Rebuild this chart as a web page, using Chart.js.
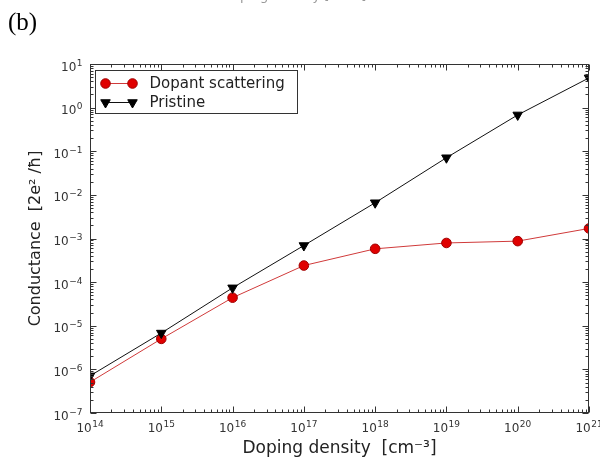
<!DOCTYPE html>
<html><head><meta charset="utf-8">
<script src="https://cdn.jsdelivr.net/npm/chart.js@4/dist/chart.umd.min.js"></script>
<style>
html,body{margin:0;padding:0;background:#fff;}
#wrap{position:relative;width:600px;height:457px;overflow:hidden;background:#fff;}
#c{position:absolute;left:0;top:0;}
#lab{position:absolute;left:8px;top:8px;font-family:"Liberation Serif","Times New Roman",serif;font-size:25px;color:#000;}
#cut{position:absolute;left:222px;top:-12px;font-family:"DejaVu Sans",sans-serif;font-size:13px;color:#999;white-space:nowrap;}
</style></head><body>
<div id="wrap"><canvas id="c" width="600" height="457"></canvas><div id="lab">(b)</div><div id="cut">Doping density  [cm⁻³]</div></div>
<script>
const densities = [1e14, 1e15, 1e16, 1e17, 1e18, 1e19, 1e20, 1e21];
const dopantScattering = [5.1e-7, 5.0e-6, 4.4e-5, 2.4e-4, 5.8e-4, 7.9e-4, 8.7e-4, 1.7e-3];
const pristine = [7.1e-7, 6.8e-6, 7.4e-5, 6.9e-4, 6.6e-3, 7.1e-2, 0.68, 4.8];
const xTicks = [1e14, 1e15, 1e16, 1e17, 1e18, 1e19, 1e20, 1e21];
const yTicks = [1e-7, 1e-6, 1e-5, 1e-4, 1e-3, 1e-2, 1e-1, 1e0, 1e1];
const seriesNames = ['Dopant scattering', 'Pristine'];
const xTitle = 'Doping density  [cm⁻³]';
const yTitle = 'Conductance  [2e² /ħ]';

const FONT = '"DejaVu Sans"';
function expOf(v){ return String(Math.round(Math.log10(v))).replace('-', '\u2212'); }

// draws "10" with a raised exponent; anchor: 'center' or 'right'
function drawPow(ctx, v, x, baseline, anchor){
  const e = expOf(v);
  ctx.font = '12px ' + FONT;
  const wb = ctx.measureText('10').width;
  ctx.font = '9px ' + FONT;
  const we = ctx.measureText(e).width;
  const total = wb + we + 0.5;
  const x0 = anchor === 'center' ? x - total / 2 : x - total;
  ctx.textAlign = 'left';
  ctx.textBaseline = 'alphabetic';
  ctx.font = '12px ' + FONT;
  ctx.fillText('10', x0, baseline);
  ctx.font = '9px ' + FONT;
  ctx.fillText(e, x0 + wb + 0.5, baseline - 5);
}

const frameTicks = {
  id: 'frameTicks',
  afterDatasetsDraw(chart){
    const {ctx, chartArea: a, scales: {x, y}} = chart;
    const L = Math.round(a.left) + 0.5, R = Math.round(a.right) - 0.5;
    const T = Math.round(a.top) + 0.5, B = Math.round(a.bottom) - 0.5;
    ctx.save();
    ctx.strokeStyle = '#333';
    ctx.lineWidth = 1;
    ctx.beginPath();
    const major = 6, minor = 3;
    function decadeTicks(ticks, cb){
      for (let i = 0; i < ticks.length; i++){
        cb(ticks[i], major);
        if (i < ticks.length - 1){
          for (let m = 2; m <= 9; m++) cb(ticks[i] * m, minor);
        }
      }
    }
    decadeTicks(xTicks, (v, len) => {
      const px = Math.round(x.getPixelForValue(v)) + 0.5;
      ctx.moveTo(px, B); ctx.lineTo(px, B - len);
      ctx.moveTo(px, T); ctx.lineTo(px, T + len);
    });
    decadeTicks(yTicks, (v, len) => {
      const py = Math.round(y.getPixelForValue(v)) + 0.5;
      ctx.moveTo(L, py); ctx.lineTo(L + len, py);
      ctx.moveTo(R, py); ctx.lineTo(R - len, py);
    });
    ctx.stroke();
    ctx.strokeRect(L, T, R - L, B - T);

    // tick labels
    ctx.fillStyle = '#333';
    xTicks.forEach(v => drawPow(ctx, v, x.getPixelForValue(v), B + 19, 'center'));
    yTicks.forEach(v => drawPow(ctx, v, L - 8, y.getPixelForValue(v) + 6.5, 'right'));
    ctx.restore();
  },
  afterDraw(chart){
    const {ctx, chartArea: a} = chart;
    const bx = Math.round(a.left) + 5.5, by = Math.round(a.top) + 6.5;
    const bw = 202, bh = 43;
    ctx.save();
    ctx.fillStyle = '#fff';
    ctx.fillRect(bx, by, bw, bh);
    ctx.strokeStyle = '#333';
    ctx.lineWidth = 1;
    ctx.strokeRect(bx, by, bw, bh);
    chart.data.datasets.forEach((ds, i) => {
      const yy = by + 13 + i * 19;
      const x1 = bx + 10, x2 = bx + 37;
      ctx.strokeStyle = ds.borderColor;
      ctx.lineWidth = 1;
      ctx.beginPath(); ctx.moveTo(x1, yy); ctx.lineTo(x2, yy); ctx.stroke();
      [x1, x2].forEach(px => {
        ctx.fillStyle = ds.pointBackgroundColor;
        ctx.strokeStyle = ds.pointBorderColor;
        ctx.beginPath();
        if (ds.pointStyle === 'circle'){
          ctx.arc(px, yy, ds.pointRadius, 0, Math.PI * 2);
        } else {
          const r = ds.pointRadius;
          ctx.moveTo(px - r * 0.866, yy - r * 0.5);
          ctx.lineTo(px + r * 0.866, yy - r * 0.5);
          ctx.lineTo(px, yy + r);
          ctx.closePath();
        }
        ctx.fill(); ctx.stroke();
      });
      ctx.fillStyle = '#222';
      ctx.font = '15px ' + FONT;
      ctx.textBaseline = 'middle';
      ctx.textAlign = 'left';
      ctx.fillText(ds.label, bx + 54, yy + 1);
    });
    ctx.restore();
  }
};

new Chart(document.getElementById('c'), {
  type: 'line',
  data: {
    datasets: [
      {
        label: seriesNames[0],
        data: densities.map((d, i) => ({x: d, y: dopantScattering[i]})),
        borderColor: '#d03a3a',
        borderWidth: 1,
        pointStyle: 'circle',
        pointRadius: 4.8,
        pointBackgroundColor: '#e00000',
        pointBorderColor: '#a00000',
        pointBorderWidth: 1,
        order: 2
      },
      {
        label: seriesNames[1],
        data: densities.map((d, i) => ({x: d, y: pristine[i]})),
        borderColor: '#111',
        borderWidth: 1,
        pointStyle: 'triangle',
        pointRotation: 180,
        pointRadius: 5.5,
        pointBackgroundColor: '#000',
        pointBorderColor: '#000',
        pointBorderWidth: 1,
        order: 1
      }
    ]
  },
  options: {
    responsive: false,
    animation: false,
    devicePixelRatio: 1,
    layout: {padding: {left: 0, top: 64, right: 11, bottom: 0}},
    plugins: {legend: {display: false}, tooltip: {enabled: false}},
    scales: {
      x: {
        type: 'logarithmic', min: 1e14, max: 1e21,
        afterBuildTicks: s => { s.ticks = xTicks.map(v => ({value: v})); },
        afterFit: s => { s.height = 44; s.paddingLeft = 0; s.paddingRight = 0; },
        ticks: {display: false},
        grid: {display: false, drawTicks: false},
        border: {display: false},
        title: {display: true, text: xTitle, font: {family: 'DejaVu Sans', size: 17}, color: '#222', padding: {top: 0, bottom: -2}}
      },
      y: {
        type: 'logarithmic', min: 1e-7, max: 10,
        afterBuildTicks: s => { s.ticks = yTicks.map(v => ({value: v})); },
        afterFit: s => { s.width = 90; s.paddingTop = 0; s.paddingBottom = 0; },
        ticks: {display: false},
        grid: {display: false, drawTicks: false},
        border: {display: false},
        title: {display: true, text: yTitle, font: {family: 'DejaVu Sans', size: 16}, color: '#222', padding: {top: 26, bottom: 0}}
      }
    }
  },
  plugins: [frameTicks]
});
</script>
</body></html>
